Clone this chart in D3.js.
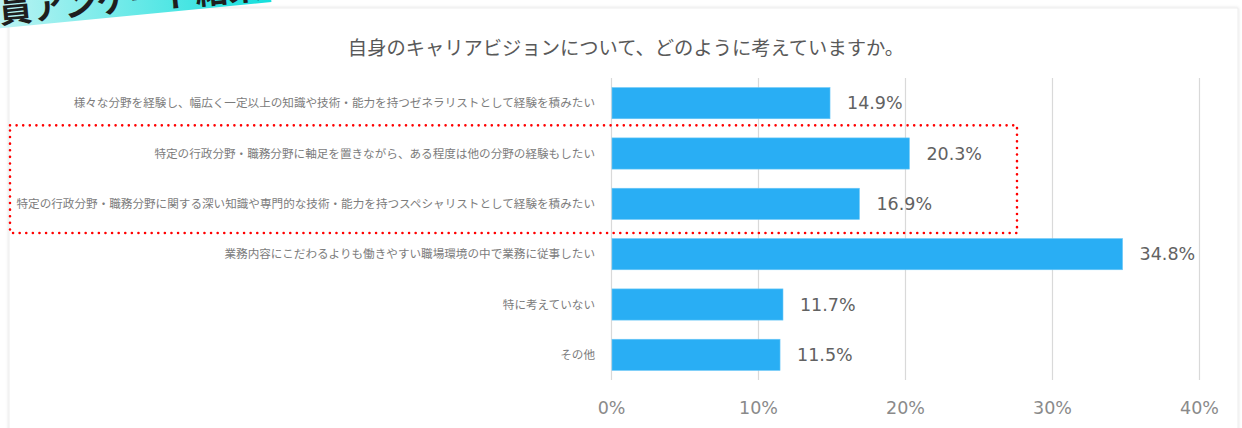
<!DOCTYPE html>
<html lang="ja">
<head>
<meta charset="utf-8">
<title>自身のキャリアビジョン</title>
<script src="https://cdn.jsdelivr.net/npm/d3@7"></script>
<style>
  html, body { margin: 0; padding: 0; background: #ffffff; }
  svg { display: block; }
</style>
</head>
<body>
<svg id="chart" width="1242" height="428"></svg>
<script>
// Survey answers (share of respondents, %)
const categories = [
  "様々な分野を経験し、幅広く一定以上の知識や技術・能力を持つゼネラリストとして経験を積みたい",
  "特定の行政分野・職務分野に軸足を置きながら、ある程度は他の分野の経験もしたい",
  "特定の行政分野・職務分野に関する深い知識や専門的な技術・能力を持つスペシャリストとして経験を積みたい",
  "業務内容にこだわるよりも働きやすい職場環境の中で業務に従事したい",
  "特に考えていない",
  "その他"
];
const values = [14.9, 20.3, 16.9, 34.8, 11.7, 11.5];
const tickValues = [0, 10, 20, 30, 40];
const highlighted = [1, 2]; // answers framed by the dotted box
const titleText = "自身のキャリアビジョンについて、どのように考えていますか。";
const bannerText = "職員アンケート結果";

(function drawChart() {
  const svg = d3.select("#chart");

  const defs = svg.append("defs");
  const shadow = defs.append("filter").attr("id", "cardShadow")
    .attr("x", "-5%").attr("y", "-5%").attr("width", "110%").attr("height", "110%");
  shadow.append("feDropShadow").attr("dx", 0).attr("dy", 0)
    .attr("stdDeviation", 1.6).attr("flood-color", "#000").attr("flood-opacity", 0.13);

  const grad = defs.append("linearGradient").attr("id", "bannerGrad")
    .attr("x1", "0%").attr("x2", "100%").attr("y1", "0%").attr("y2", "0%");
  grad.append("stop").attr("offset", "0%").attr("stop-color", "#d3f6f6");
  grad.append("stop").attr("offset", "100%").attr("stop-color", "#14dfdc");

  // white card
  svg.append("rect")
    .attr("x", 9).attr("y", 8).attr("width", 1229).attr("height", 460)
    .attr("fill", "#ffffff").attr("stroke", "#ededed").attr("stroke-width", 1)
    .attr("filter", "url(#cardShadow)");

  // heading ribbon
  const banner = svg.append("g").attr("transform", "rotate(-5.5)");
  banner.append("rect")
    .attr("x", -40).attr("y", -60).attr("width", 310).attr("height", 88)
    .attr("fill", "url(#bannerGrad)");
  banner.append("text")
    .attr("x", -35).attr("y", 23.5)
    .attr("font-family", "'Noto Sans CJK JP', sans-serif")
    .attr("font-weight", 700).attr("font-size", 33)
    .attr("fill", "#1e1e1e")
    .text(bannerText);

  // title
  svg.append("text")
    .attr("x", 626).attr("y", 55)
    .attr("text-anchor", "middle")
    .attr("font-family", "'Noto Sans CJK JP', sans-serif")
    .attr("font-size", 19.3)
    .attr("fill", "#595959")
    .text(titleText);

  // scales
  const x = d3.scaleLinear().domain([0, 40]).range([611, 1199]);
  const y = d3.scaleBand().domain(categories).range([78, 380])
    .paddingInner(0.38).paddingOuter(0.19);

  // gridlines + tick labels
  const axis = d3.axisBottom(x)
    .tickValues(tickValues)
    .tickFormat(d => d + "%")
    .tickSizeInner(-(380 - 78))
    .tickSizeOuter(0)
    .tickPadding(22);

  const axisG = svg.append("g").attr("transform", "translate(0,380)").call(axis);
  axisG.select(".domain").remove();
  axisG.selectAll(".tick line").attr("stroke", "#d9d9d9").attr("stroke-width", 1.2);
  axisG.selectAll(".tick text")
    .attr("font-family", "'DejaVu Sans', sans-serif")
    .attr("font-size", 17.5)
    .attr("fill", "#8a8a8a");

  const data = categories.map((c, i) => ({ cat: c, value: values[i] }));

  // bars
  svg.append("g").selectAll("rect").data(data).join("rect")
    .attr("x", x(0) + 1)
    .attr("y", d => y(d.cat))
    .attr("width", d => x(d.value) - x(0) - 1)
    .attr("height", y.bandwidth())
    .attr("fill", "#29aef4")
    .attr("stroke", "#6cc9f8").attr("stroke-width", 0.6);

  // value labels
  svg.append("g").selectAll("text").data(data).join("text")
    .attr("x", d => x(d.value) + 17)
    .attr("y", d => y(d.cat) + y.bandwidth() / 2)
    .attr("dy", "0.36em")
    .attr("font-family", "'DejaVu Sans', sans-serif")
    .attr("font-size", 17.5)
    .attr("fill", "#626262")
    .text(d => d.value.toFixed(1) + "%");

  // category labels
  svg.append("g").selectAll("text").data(data).join("text")
    .attr("x", 595)
    .attr("y", d => y(d.cat) + y.bandwidth() / 2)
    .attr("dy", "0.36em")
    .attr("text-anchor", "end")
    .attr("font-family", "'Noto Sans CJK JP', sans-serif")
    .attr("font-size", 11.6)
    .attr("fill", "#7c7c7c")
    .text(d => d.cat);

  // dotted highlight frame around the specialist-leaning answers
  const gap = y.step() - y.bandwidth();
  const frameTop = y(categories[highlighted[0]]) - gap / 2 - 3;
  const frameBottom = y(categories[highlighted[highlighted.length - 1]]) + y.bandwidth() + gap / 2 + 4;
  svg.append("rect")
    .attr("x", 10).attr("y", frameTop)
    .attr("width", 1017 - 10).attr("height", frameBottom - frameTop)
    .attr("fill", "none")
    .attr("stroke", "#ff0000")
    .attr("stroke-width", 2.6)
    .attr("stroke-linecap", "round")
    .attr("stroke-dasharray", "0 6.6");
})();
</script>
</body>
</html>
